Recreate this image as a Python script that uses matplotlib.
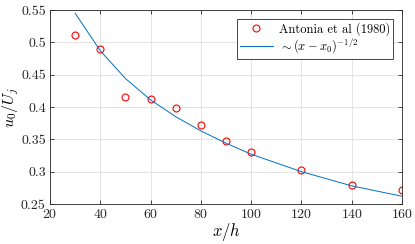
import numpy as np
import matplotlib.pyplot as plt

plt.rcParams['font.family'] = 'cmr10'
plt.rcParams['mathtext.fontset'] = 'cm'
plt.rcParams['axes.formatter.use_mathtext'] = True

# Antonia et al (1980) data
x_data = [30, 40, 50, 60, 70, 80, 90, 100, 120, 140, 160]
u_data = [0.512, 0.490, 0.415, 0.413, 0.398, 0.372, 0.348, 0.331, 0.303, 0.280, 0.272]

# fitted curve ~ (x - x0)^(-1/2)
x_fit = [30, 40, 50, 60, 70, 80, 90, 100, 120, 140, 160]
u_fit = [0.545, 0.487, 0.444, 0.411, 0.385, 0.363, 0.344, 0.327, 0.300, 0.278, 0.262]

fig = plt.figure(figsize=(4.15, 2.44), dpi=100)
ax = fig.add_axes([0.1205, 0.164, 0.8482, 0.795])

ax.plot(x_data, u_data, 'o', mfc='none', mec='red', ms=5, mew=0.8,
        label='Antonia et al (1980)')
ax.plot(x_fit, u_fit, '-', color=(0, 0.447, 0.741), lw=0.7,
        label=r'$\sim(x-x_0)^{-1/2}$')

ax.set_xlim(20, 160)
ax.set_ylim(0.25, 0.55)
ax.set_xticks(np.arange(20, 161, 20))
ax.set_yticks(np.arange(0.25, 0.551, 0.05))
ax.set_yticklabels(['0.25', '0.3', '0.35', '0.4', '0.45', '0.5', '0.55'])

ax.grid(True, color='0.88', lw=0.6)
ax.set_axisbelow(True)
for s in ax.spines.values():
    s.set_color('0.15')
    s.set_linewidth(0.6)
ax.tick_params(direction='in', top=True, right=True, length=3, width=0.6,
               colors='0.15', labelsize=10, pad=3)

ax.set_xlabel(r'$x/h$', fontsize=12, labelpad=0)
ax.set_ylabel(r'$u_0/U_j$', fontsize=11.5, labelpad=0)

leg = ax.legend(loc='upper right', fontsize=9, fancybox=False, framealpha=1,
                edgecolor='0.15', borderpad=0.25, handlelength=2.6,
                handletextpad=0.5, labelspacing=0.1, borderaxespad=0.7)
leg.get_frame().set_linewidth(0.6)

plt.savefig('out.png', dpi=100, facecolor='white')
